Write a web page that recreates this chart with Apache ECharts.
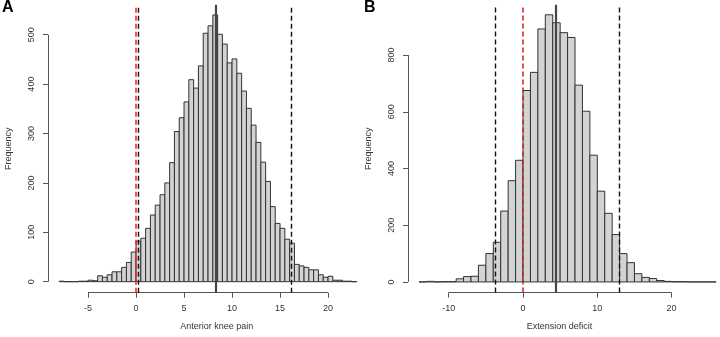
<!DOCTYPE html>
<html>
<head>
<meta charset="utf-8">
<script src="https://cdn.jsdelivr.net/npm/echarts@6/dist/echarts.min.js"></script>
<style>
html, body { margin: 0; padding: 0; background: #fff; }
#chart { width: 720px; height: 337px; }
</style>
</head>
<body>
<div id="chart"></div>
<script>
// panel A - anterior knee pain, bins of 0.5
var kneeBinStart = -8;
var kneeBinWidth = 0.5;
var kneeCounts = [1, 0, 0, 0, 1, 1, 3, 2, 12, 9, 14, 20, 20, 29, 39, 60,
    82, 88, 108, 135, 155, 176, 200, 241, 304, 332, 364, 409, 392, 437, 503, 518,
    540, 501, 481, 443, 451, 422, 386, 351, 317, 282, 242, 203, 152, 118, 108, 86,
    78, 35, 32, 29, 24, 24, 14, 9, 11, 3, 3, 1, 1, 0];
var kneeXTicks = [-5, 0, 5, 10, 15, 20];
var kneeYTicks = [0, 100, 200, 300, 400, 500];
var kneeZero = 0;
var kneeLimits = [0.24, 16.15];
var kneeMean = 8.33;

// panel B - extension deficit, bins of 1
var extBinStart = -14;
var extBinWidth = 1;
var extCounts = [0, 2, 0, 1, 1, 11, 19, 20, 59, 100, 140, 250, 357, 429,
    675, 739, 892, 942, 914, 879, 862, 694, 602, 447,
    320, 242, 167, 100, 68, 29, 16, 12, 5, 2, 1, 1, 0, 0, 0, 0];
var extXTicks = [-10, 0, 10, 20];
var extYTicks = [0, 200, 400, 600, 800];
var extZero = 0;
var extLimits = [-3.68, 12.97];
var extMean = 4.44;

var FONT = 'Liberation Sans, Arial, sans-serif';
var AXIS_COLOR = '#555';

var chart = echarts.init(document.getElementById('chart'));

function bins(start, width, counts) {
    var out = [];
    for (var i = 0; i < counts.length; i++) {
        out.push([start + i * width, start + (i + 1) * width, counts[i]]);
    }
    return out;
}

function renderBar(params, api) {
    var p0 = api.coord([api.value(0), api.value(2)]);
    var p1 = api.coord([api.value(1), 0]);
    return {
        type: 'rect',
        shape: { x: p0[0], y: p0[1], width: p1[0] - p0[0], height: p1[1] - p0[1] },
        style: { fill: '#d3d3d3', stroke: '#333', lineWidth: 1 }
    };
}

function xAxisOf(idx, min, max, ticks, name, pad) {
    return {
        type: 'value', gridIndex: idx, min: min, max: max,
        name: name, nameLocation: 'middle', nameGap: 29,
        nameTextStyle: { fontFamily: FONT, fontSize: 9, color: '#333', padding: pad },
        axisLine: { show: false, onZero: false },
        splitLine: { show: false },
        axisTick: { customValues: ticks, length: 5, lineStyle: { color: AXIS_COLOR } },
        axisLabel: { customValues: ticks, margin: 11, fontFamily: FONT, fontSize: 9, color: '#333' }
    };
}

function yAxisOf(idx, min, max, ticks) {
    return {
        type: 'value', gridIndex: idx, min: min, max: max,
        name: 'Frequency', nameLocation: 'middle', nameGap: 35,
        nameTextStyle: { fontFamily: FONT, fontSize: 9, color: '#333' },
        axisLine: { show: false, onZero: false },
        splitLine: { show: false },
        axisTick: { customValues: ticks, length: 5, lineStyle: { color: AXIS_COLOR } },
        axisLabel: { customValues: ticks, rotate: 90, margin: 12, fontFamily: FONT, fontSize: 9, color: '#333' }
    };
}

function vline(x, color, type, width) {
    return { xAxis: x, lineStyle: { color: color, type: type, width: width } };
}

function histSeries(idx, start, width, counts, xTicks, yTicks, xMin, yMin, zero, limits, mean, red) {
    return {
        type: 'custom',
        xAxisIndex: idx, yAxisIndex: idx,
        renderItem: renderBar,
        encode: { x: [0, 1], y: 2 },
        data: bins(start, width, counts),
        markLine: {
            silent: true, symbol: 'none', label: { show: false },
            animation: false,
            data: [
                // axis lines, drawn only between first and last tick as in R
                [{ coord: [xTicks[0], yMin], lineStyle: { color: AXIS_COLOR, type: 'solid', width: 1 } },
                 { coord: [xTicks[xTicks.length - 1], yMin] }],
                [{ coord: [xMin, yTicks[0]], lineStyle: { color: AXIS_COLOR, type: 'solid', width: 1 } },
                 { coord: [xMin, yTicks[yTicks.length - 1]] }],
                vline(limits[0], '#111', [5, 3], 1.4),
                vline(limits[1], '#111', [5, 3], 1.4),
                vline(zero, red, [5, 3], 1.5),
                vline(mean, '#464646', 'solid', 2.2)
            ]
        }
    };
}

var kneeXMin = -9.17, kneeXMax = 24.1, kneeYMin = -22.3, kneeYMax = 560.6;
var extXMin = -15.48, extXMax = 26.5, extYMin = -37.6, extYMax = 977.6;

var option = {
    animation: false,
    title: [
        { text: 'A', left: 2, top: 0, padding: 0, textStyle: { fontFamily: FONT, fontSize: 16, fontWeight: 'bold', color: '#000' } },
        { text: 'B', left: 364, top: 0, padding: 0, textStyle: { fontFamily: FONT, fontSize: 16, fontWeight: 'bold', color: '#000' } }
    ],
    grid: [
        { left: 48, top: 4.8, width: 319.4, height: 287.9 },
        { left: 408, top: 4.7, width: 311.9, height: 287.9 }
    ],
    xAxis: [
        xAxisOf(0, kneeXMin, kneeXMax, kneeXTicks, 'Anterior knee pain', [0, 0, 0, 18]),
        xAxisOf(1, extXMin, extXMax, extXTicks, 'Extension deficit', [0, 9, 0, 0])
    ],
    yAxis: [
        yAxisOf(0, kneeYMin, kneeYMax, kneeYTicks),
        yAxisOf(1, extYMin, extYMax, extYTicks)
    ],
    series: [
        histSeries(0, kneeBinStart, kneeBinWidth, kneeCounts, kneeXTicks, kneeYTicks,
            kneeXMin, kneeYMin, kneeZero, kneeLimits, kneeMean, '#ff1a1a'),
        histSeries(1, extBinStart, extBinWidth, extCounts, extXTicks, extYTicks,
            extXMin, extYMin, extZero, extLimits, extMean, '#d02020')
    ]
};

chart.setOption(option);
</script>
</body>
</html>
